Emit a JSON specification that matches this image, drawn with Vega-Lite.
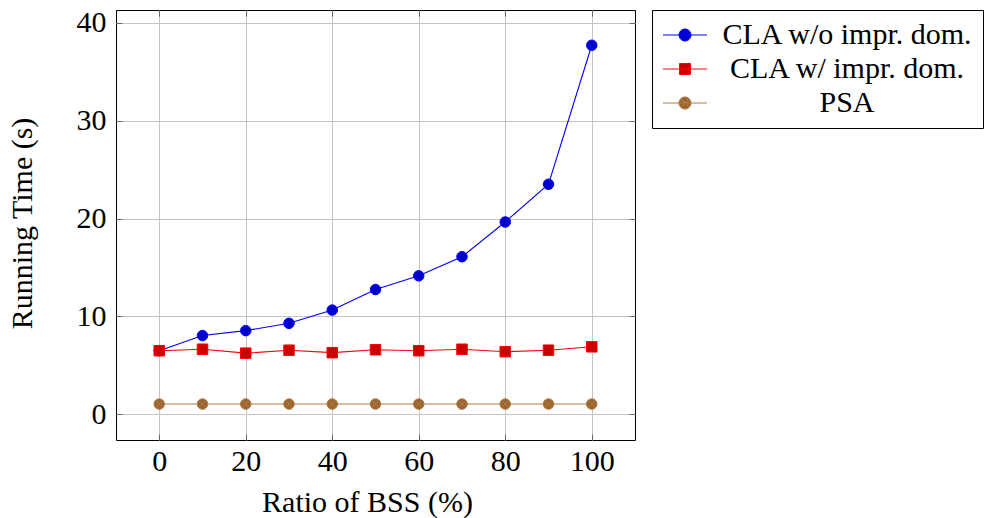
{
  "$schema": "https://vega.github.io/schema/vega-lite/v6.json",
  "width": 519,
  "height": 430,
  "autosize": {"type": "none"},
  "padding": {"left": 116, "top": 10, "right": 353, "bottom": 78},
  "background": "white",
  "config": {
    "view": {"stroke": "black", "strokeWidth": 1},
    "font": "Liberation Serif",
    "axis": {
      "grid": true,
      "gridColor": "#c4c4c4",
      "gridWidth": 1,
      "domain": false,
      "tickColor": "#666666",
      "tickWidth": 1,
      "tickSize": -6,
      "labelFont": "Liberation Serif",
      "labelFontSize": 30,
      "labelColor": "black",
      "titleFont": "Liberation Serif",
      "titleFontSize": 30,
      "titleFontWeight": "normal",
      "titleColor": "black"
    }
  },
  "data": {
    "values": [
      {"x": 0, "y": 6.5, "s": "CLA w/o impr. dom."},
      {"x": 10, "y": 8.05, "s": "CLA w/o impr. dom."},
      {"x": 20, "y": 8.55, "s": "CLA w/o impr. dom."},
      {"x": 30, "y": 9.3, "s": "CLA w/o impr. dom."},
      {"x": 40, "y": 10.65, "s": "CLA w/o impr. dom."},
      {"x": 50, "y": 12.75, "s": "CLA w/o impr. dom."},
      {"x": 60, "y": 14.15, "s": "CLA w/o impr. dom."},
      {"x": 70, "y": 16.1, "s": "CLA w/o impr. dom."},
      {"x": 80, "y": 19.65, "s": "CLA w/o impr. dom."},
      {"x": 90, "y": 23.5, "s": "CLA w/o impr. dom."},
      {"x": 100, "y": 37.7, "s": "CLA w/o impr. dom."},
      {"x": 0, "y": 6.5, "s": "CLA w/ impr. dom."},
      {"x": 10, "y": 6.65, "s": "CLA w/ impr. dom."},
      {"x": 20, "y": 6.25, "s": "CLA w/ impr. dom."},
      {"x": 30, "y": 6.55, "s": "CLA w/ impr. dom."},
      {"x": 40, "y": 6.3, "s": "CLA w/ impr. dom."},
      {"x": 50, "y": 6.6, "s": "CLA w/ impr. dom."},
      {"x": 60, "y": 6.5, "s": "CLA w/ impr. dom."},
      {"x": 70, "y": 6.65, "s": "CLA w/ impr. dom."},
      {"x": 80, "y": 6.4, "s": "CLA w/ impr. dom."},
      {"x": 90, "y": 6.55, "s": "CLA w/ impr. dom."},
      {"x": 100, "y": 6.9, "s": "CLA w/ impr. dom."},
      {"x": 0, "y": 1.05, "s": "PSA"},
      {"x": 10, "y": 1.05, "s": "PSA"},
      {"x": 20, "y": 1.05, "s": "PSA"},
      {"x": 30, "y": 1.05, "s": "PSA"},
      {"x": 40, "y": 1.05, "s": "PSA"},
      {"x": 50, "y": 1.05, "s": "PSA"},
      {"x": 60, "y": 1.05, "s": "PSA"},
      {"x": 70, "y": 1.05, "s": "PSA"},
      {"x": 80, "y": 1.05, "s": "PSA"},
      {"x": 90, "y": 1.05, "s": "PSA"},
      {"x": 100, "y": 1.05, "s": "PSA"}
    ]
  },
  "layer": [
    {
      "mark": {"type": "line", "strokeWidth": 1.1},
      "encoding": {
        "x": {
          "field": "x", "type": "quantitative",
          "scale": {"domain": [-10, 110], "nice": false, "zero": false},
          "axis": {"values": [0, 20, 40, 60, 80, 100], "title": "Ratio of BSS (%)", "labelPadding": 12, "titleX": 251, "titleY": 62, "titleBaseline": "middle"}
        },
        "y": {
          "field": "y", "type": "quantitative",
          "scale": {"domain": [-2.62, 41.3], "nice": false, "zero": false},
          "axis": {"values": [0, 10, 20, 30, 40], "title": "Running Time (s)", "labelPadding": 16, "titleX": -94, "titleY": 213, "titleAngle": 270, "titleAlign": "center", "titleBaseline": "middle"}
        },
        "stroke": {
          "field": "s", "type": "nominal",
          "scale": {"domain": ["CLA w/o impr. dom.", "CLA w/ impr. dom.", "PSA"], "range": ["#0000ff", "#ff0000", "#b07a40"]},
          "legend": {
            "title": null,
            "orient": "right",
            "offset": 16,
            "padding": 10,
            "strokeColor": "black",
            "fillColor": "white",
            "labelFont": "Liberation Serif",
            "labelFontSize": 30,
            "labelColor": "black",
            "labelAlign": "center",
            "labelOffset": 147,
            "labelLimit": 400,
            "symbolSize": 400,
            "symbolOffset": 8,
            "rowPadding": 4,
            "encode": {
              "symbols": {
                "update": {
                  "shape": {"signal": "datum.value === 'PSA' ? 'M-2.2,0L2.2,0M0.6,0A0.6,0.6,0,1,1,-0.6,0A0.6,0.6,0,1,1,0.6,0ZM-0.42,-0.42L0.42,0.42M-0.42,0.42L0.42,-0.42' : datum.value === 'CLA w/ impr. dom.' ? 'M-2.2,0L2.2,0M-0.55,-0.55L0.55,-0.55L0.55,0.55L-0.55,0.55Z' : 'M-2.2,0L2.2,0M0.6,0A0.6,0.6,0,1,1,-0.6,0A0.6,0.6,0,1,1,0.6,0Z'"},
                  "fill": {"signal": "datum.value === 'PSA' ? '#996633' : datum.value === 'CLA w/ impr. dom.' ? '#cc0000' : '#0000cc'"},
                  "size": {"value": 400},
                  "strokeWidth": {"value": 1},
                  "opacity": {"value": 1},
                  "fillOpacity": {"value": 1}
                }
              }
            }
          }
        }
      }
    },
    {
      "mark": {"type": "point", "size": 110, "strokeWidth": 1, "opacity": 1, "fillOpacity": 1},
      "encoding": {
        "x": {"field": "x", "type": "quantitative", "axis": null},
        "y": {"field": "y", "type": "quantitative", "axis": null},
        "stroke": {"field": "s", "type": "nominal", "legend": null},
        "fill": {
          "field": "s", "type": "nominal", "legend": null,
          "scale": {"domain": ["CLA w/o impr. dom.", "CLA w/ impr. dom.", "PSA"], "range": ["#0000cc", "#cc0000", "#996633"]}
        },
        "shape": {
          "condition": [
            {"test": "datum.s === 'PSA'", "value": "M1,0A1,1,0,1,1,-1,0A1,1,0,1,1,1,0ZM-0.7,-0.7L0.7,0.7M-0.7,0.7L0.7,-0.7"},
            {"test": "datum.s === 'CLA w/ impr. dom.'", "value": "square"}
          ],
          "value": "circle"
        }
      }
    },
    {
      "mark": {"type": "point", "opacity": 0},
      "encoding": {
        "x": {"field": "x", "type": "quantitative", "axis": {"orient": "top", "values": [0, 20, 40, 60, 80, 100], "labels": false, "grid": false, "title": null}},
        "y": {"field": "y", "type": "quantitative", "axis": {"orient": "right", "values": [0, 10, 20, 30, 40], "labels": false, "grid": false, "title": null}}
      }
    }
  ],
  "resolve": {"axis": {"x": "independent", "y": "independent"}}
}
